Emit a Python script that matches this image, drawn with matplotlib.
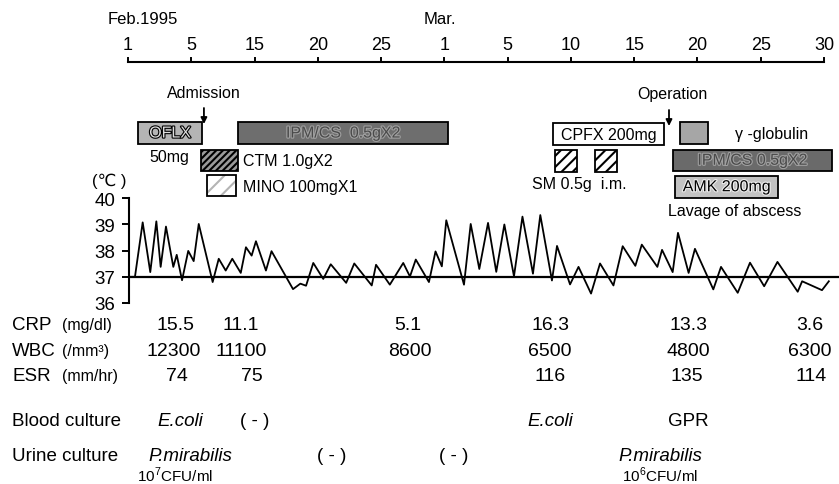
import matplotlib
matplotlib.use("Agg")
import matplotlib.pyplot as plt
import matplotlib.patheffects as pe
from matplotlib.patches import Rectangle

plt.rcParams['font.family'] = ['Liberation Sans', 'DejaVu Sans']
plt.rcParams['mathtext.fontset'] = 'custom'
plt.rcParams['mathtext.rm'] = 'Liberation Sans'
plt.rcParams['hatch.linewidth'] = 1.5

# ---- data (x = day index on the equally spaced date scale, 0 = Feb 1) ----
top_ticks = [0, 5, 10, 15, 20, 25, 30, 35, 40, 45, 50, 55]
top_labels = ['1', '5', '15', '20', '25', '1', '5', '10', '15', '20', '25', '30']

temp_day = [0.10, 0.55, 1.16, 1.76, 2.24, 2.58, 3.00, 3.58, 3.85, 4.27, 4.76,
            5.19, 5.59, 6.69, 7.17, 7.72, 8.24, 8.91, 9.32, 9.77, 10.11,
            10.90, 11.34, 13.04, 13.62, 14.07, 14.64, 15.43, 16.02, 17.24,
            17.88, 19.26, 19.60, 20.69, 21.75, 22.28, 22.74, 23.78, 24.30,
            24.80, 25.15, 26.55, 27.08, 27.76, 28.45, 29.10, 29.74, 30.50,
            31.17, 32.00, 32.58, 33.50, 33.90, 34.93, 35.60, 36.59, 37.30,
            38.36, 39.09, 40.09, 40.60, 41.83, 42.20, 43.04, 43.46, 44.30,
            44.80, 46.25, 46.86, 48.18, 49.15, 50.27, 51.32, 52.92, 53.27,
            54.84, 55.38]
temp_val = [37.0, 37.0, 39.08, 37.18, 39.12, 37.38, 38.92, 37.38, 37.84, 36.87,
            37.99, 37.6, 39.02, 36.8, 37.69, 37.24, 37.69, 37.15, 38.13, 37.81,
            38.36, 37.24, 37.98, 36.53, 36.74, 36.66, 37.53, 36.92, 37.48,
            36.77, 37.51, 36.67, 37.46, 36.70, 37.53, 37.01, 37.66, 36.80,
            37.97, 37.4, 39.16, 36.70, 39.02, 37.30, 39.06, 37.19, 39.0, 37.02,
            39.3, 37.12, 39.36, 36.86, 38.18, 36.71, 37.38, 36.36, 37.51,
            36.67, 38.17, 37.42, 38.23, 37.38, 38.03, 37.18, 38.68, 37.15,
            38.07, 36.52, 37.38, 36.39, 37.54, 36.64, 37.57, 36.43, 36.83,
            36.49, 36.83]

# treatments: label, first day, last day
drug_labels = ['OFLX', 'IPM/CS  0.5gX2', 'CTM', 'MINO', 'CPFX 200mg',
               'globulin', 'SM1', 'SM2', 'IPM/CS 0.5gX2', 'AMK 200mg']
drug_start = [0.81, 8.72, 5.77, 6.21, 33.61, 43.62, 33.74, 36.90, 43.09, 43.22]
drug_end = [5.83, 25.31, 8.66, 8.50, 42.38, 45.85, 35.50, 38.62, 55.61, 51.39]

admission_day = 6.0
operation_day = 42.75

crp_day = [3.79, 8.93, 22.12, 33.35, 44.26, 53.90]
crp_val = ['15.5', '11.1', '5.1', '16.3', '13.3', '3.6']
wbc_day = [3.63, 8.98, 22.28, 33.35, 44.25, 53.90]
wbc_val = ['12300', '11100', '8600', '6500', '4800', '6300']
esr_day = [3.85, 9.80, 33.35, 44.17, 53.97]
esr_val = ['74', '75', '116', '135', '114']
blood_day = [4.13, 10.04, 33.35, 44.25]
blood_val = ['E.coli', '( - )', 'E.coli', 'GPR']
urine_day = [4.90, 16.10, 25.76, 42.04]
urine_val = ['P.mirabilis', '( - )', '( - )', 'P.mirabilis']
cfu_day = [3.71, 42.04]
cfu_val = ['10$^{7}$CFU/ml', '10$^{6}$CFU/ml']

# ---- layout ----
W, H = 839, 485
X0 = 128.0      # pixel of day 0
PPD = 12.655    # pixels per day
LEFT = -X0 / PPD

fig = plt.figure(figsize=(W / 100, H / 100), dpi=100)
ax = fig.add_axes([0, 0, 1, 1])
ax.set_xlim(LEFT, (W - X0) / PPD)
ax.set_ylim(H, 0)
ax.axis('off')

# top date axis
ax.plot([top_ticks[0], top_ticks[-1]], [63.3, 63.3], color='black', lw=1.5)
for d, lab in zip(top_ticks, top_labels):
    ax.plot([d, d], [63.3, 58.5], color='black', lw=1.4)
    ax.text(d, 46, lab, ha='center', va='center', fontsize=13)
ax.text(-1.6, 20, 'Feb.1995', ha='left', va='center', fontsize=12)
ax.text(24.65, 20, 'Mar.', ha='center', va='center', fontsize=12)

# treatment boxes
ROW1, ROW2, ROW3, BH = 123.3, 150.5, 177.0, 21.5


def box(i, top, face, hatch=None, hatch_color='black', edge='black'):
    x0, x1 = drug_start[i], drug_end[i]
    if hatch:
        ax.add_patch(Rectangle((x0, top), x1 - x0, BH, facecolor=face,
                               edgecolor=hatch_color, hatch=hatch, lw=0))
        ax.add_patch(Rectangle((x0, top), x1 - x0, BH, fill=False,
                               edgecolor=edge, lw=1.3))
    else:
        ax.add_patch(Rectangle((x0, top), x1 - x0, BH, facecolor=face,
                               edgecolor=edge, lw=1.3))
    return (x0 + x1) / 2, top + BH / 2


cx, cy = box(0, ROW1, '#b4b4b4')
ax.text(cx, cy, drug_labels[0], ha='center', va='center', fontsize=11.5,
        color='#dedede',
        path_effects=[pe.Stroke(linewidth=1.6, foreground='black'), pe.Normal()])
cx, cy = box(1, ROW1, '#6e6e6e')
ax.text(cx, cy, drug_labels[1], ha='center', va='center', fontsize=11.5,
        color='#4a4a4a',
        path_effects=[pe.Stroke(linewidth=1.6, foreground='#a0a0a0'), pe.Normal()])
box(2, ROW2, '#9a9a9a', hatch='/////')
box(3, ROW3 - 1.5, 'white', hatch='//', hatch_color='#b4b4b4')
cx, cy = box(4, ROW1 + 1, 'white')
ax.text(cx, cy, drug_labels[4], ha='center', va='center', fontsize=11.5)
box(5, ROW1, '#a6a6a6')
box(6, ROW2 + 0.5, 'white', hatch='///')
box(7, ROW2 + 0.5, 'white', hatch='///')
cx, cy = box(8, ROW2, '#6a6a6a')
ax.text(cx, cy, drug_labels[8], ha='center', va='center', fontsize=11.5,
        color='#4a4a4a',
        path_effects=[pe.Stroke(linewidth=1.6, foreground='#a0a0a0'), pe.Normal()])
cx, cy = box(9, ROW3, '#c2c2c2')
ax.text(cx, cy, drug_labels[9], ha='center', va='center', fontsize=11.5,
        color='black',
        path_effects=[pe.Stroke(linewidth=1.6, foreground='#eeeeee'), pe.Normal()])

ax.text(1.65, 158, '50mg', ha='left', va='center', fontsize=11.5)
ax.text(9.1, 162, 'CTM 1.0gX2', ha='left', va='center', fontsize=11.5)
ax.text(9.1, 188, 'MINO 100mgX1', ha='left', va='center', fontsize=11.5)
ax.text(48.0, 134.5, '\u03b3 -globulin', ha='left', va='center', fontsize=11.5)
ax.text(31.9, 185, 'SM 0.5g  i.m.', ha='left', va='center', fontsize=11.5)
ax.text(47.96, 212, 'Lavage of abscess', ha='center', va='center', fontsize=11.5)

# admission / operation arrows
ax.text(admission_day, 93, 'Admission', ha='center', va='center', fontsize=11.5)
ax.annotate('', xy=(admission_day, 125), xytext=(admission_day, 109),
            arrowprops=dict(arrowstyle='-|>', color='black', lw=1.3,
                            mutation_scale=9, shrinkA=0, shrinkB=0))
ax.text(operation_day + 0.25, 95, 'Operation', ha='center', va='center',
        fontsize=11.5)
ax.annotate('', xy=(operation_day, 127), xytext=(operation_day, 111),
            arrowprops=dict(arrowstyle='-|>', color='black', lw=1.3,
                            mutation_scale=9, shrinkA=0, shrinkB=0))

# temperature chart
ax_t = fig.add_axes([(X0 + 1) / W, (H - 304) / H, (W - X0 - 1) / W,
                     (304 - 199.3) / H])
ax_t.set_xlim(1 / PPD, (W - X0) / PPD)
ax_t.set_ylim(36, 40)
ax_t.patch.set_alpha(0)
for s in ['top', 'right', 'bottom']:
    ax_t.spines[s].set_visible(False)
ax_t.spines['left'].set_linewidth(1.5)
ax_t.set_xticks([])
ax_t.set_yticks([36, 37, 38, 39, 40])
ax_t.tick_params(axis='y', direction='out', length=5, width=1.4, pad=5,
                 labelsize=13.5)
ax_t.axhline(37, color='black', lw=1.6)
ax_t.plot(temp_day, temp_val, color='black', lw=1.3, clip_on=False)
ax.text(-1.5, 181, '(\u2103 )', ha='center', va='center', fontsize=12)

# lab table
rows = [
    ('CRP', '(mg/dl)', 326, crp_day, crp_val),
    ('WBC', '(/mm\u00b3)', 351.5, wbc_day, wbc_val),
    ('ESR', '(mm/hr)', 376.5, esr_day, esr_val),
]
for name, unit, y, days, vals in rows:
    ax.text(LEFT + 12 / PPD, y, name, ha='left', va='center', fontsize=13.5)
    ax.text(LEFT + 62 / PPD, y, unit, ha='left', va='center', fontsize=11.5)
    for d, v in zip(days, vals):
        ax.text(d, y, v, ha='center', va='center', fontsize=14)

ax.text(LEFT + 12 / PPD, 421.5, 'Blood culture', ha='left', va='center',
        fontsize=13.5)
for d, v in zip(blood_day, blood_val):
    ax.text(d, 421.5, v, ha='center', va='center', fontsize=13.5,
            style='italic' if v == 'E.coli' else 'normal')
ax.text(LEFT + 12 / PPD, 456.5, 'Urine culture', ha='left', va='center',
        fontsize=13.5)
for d, v in zip(urine_day, urine_val):
    ax.text(d, 456.5, v, ha='center', va='center', fontsize=13.5,
            style='italic' if v.startswith('P.') else 'normal')
for d, v in zip(cfu_day, cfu_val):
    ax.text(d, 475, v, ha='center', va='center', fontsize=11)

fig.savefig('out.png', dpi=100)
